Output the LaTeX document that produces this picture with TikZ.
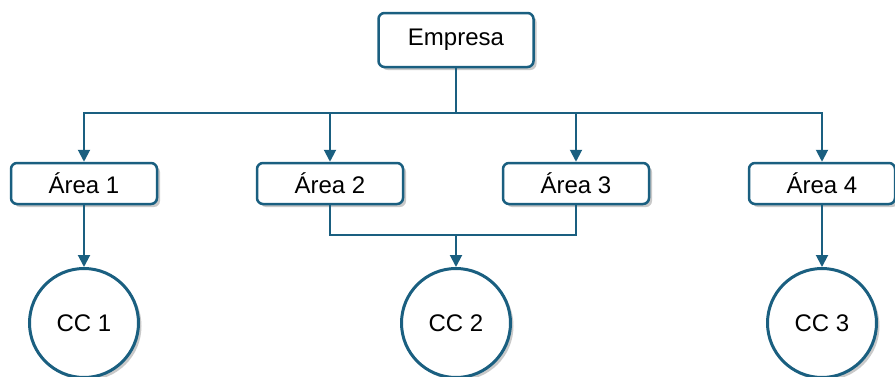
\documentclass[tikz,border=0pt]{standalone}
\usepackage{fontspec}
\setmainfont{Liberation Sans}
\usetikzlibrary{positioning}
\usetikzlibrary{arrows.meta}
\usetikzlibrary{shadows}
\definecolor{orgblue}{RGB}{26,95,128}

\tikzset{
  areabox/.style={draw=orgblue, line width=2.5pt, rounded corners=6pt, fill=white,
    minimum width=146pt, minimum height=41pt, font=\fontsize{24}{28}\selectfont,
    drop shadow={shadow xshift=3pt, shadow yshift=-3pt, opacity=0.3, fill=black!70}},
  ccnode/.style={circle, draw=orgblue, line width=3pt, fill=white,
    minimum size=109pt, font=\fontsize{24}{28}\selectfont,
    drop shadow={shadow xshift=3pt, shadow yshift=-3pt, opacity=0.3, fill=black!70}},
  link/.style={draw=orgblue, line width=2pt}
}

\begin{document}
\begin{tikzpicture}[x=1pt, y=1pt, >={Triangle[length=12pt,width=12pt]}]
    \useasboundingbox (0,0) rectangle (895,376);

    % Top
    \node[areabox, minimum width=155pt, minimum height=54pt] (empresa) at (456,336) {Empresa};

    % Areas
    \node[areabox] (area1) at (84,192.5) {Área 1};
    \node[areabox] (area2) at (330,192.5) {Área 2};
    \node[areabox] (area3) at (576,192.5) {Área 3};
    \node[areabox] (area4) at (822,192.5) {Área 4};

    % Cost centres
    \node[ccnode] (cc1) at (84,53) {CC 1};
    \node[ccnode] (cc2) at (456,53) {CC 2};
    \node[ccnode] (cc3) at (822,53) {CC 3};

    \coordinate (bus) at (0,263);
    \coordinate (join) at (456,141);

    \draw[link] (empresa.south) -- (empresa.south |- bus);
    \draw[link, ->] (empresa.south |- bus) -| (area1.north);
    \draw[link, ->] (empresa.south |- bus) -| (area2.north);
    \draw[link, ->] (empresa.south |- bus) -| (area3.north);
    \draw[link, ->] (empresa.south |- bus) -| (area4.north);

    \draw[link, ->] (area1.south) -- (cc1.north);
    \draw[link, line width=1.5pt] (area2.south) |- (join) -| (area3.south);
    \draw[link, ->] (join) -- (cc2.north);
    \draw[link, ->] (area4.south) -- (cc3.north);
\end{tikzpicture}
\end{document}
